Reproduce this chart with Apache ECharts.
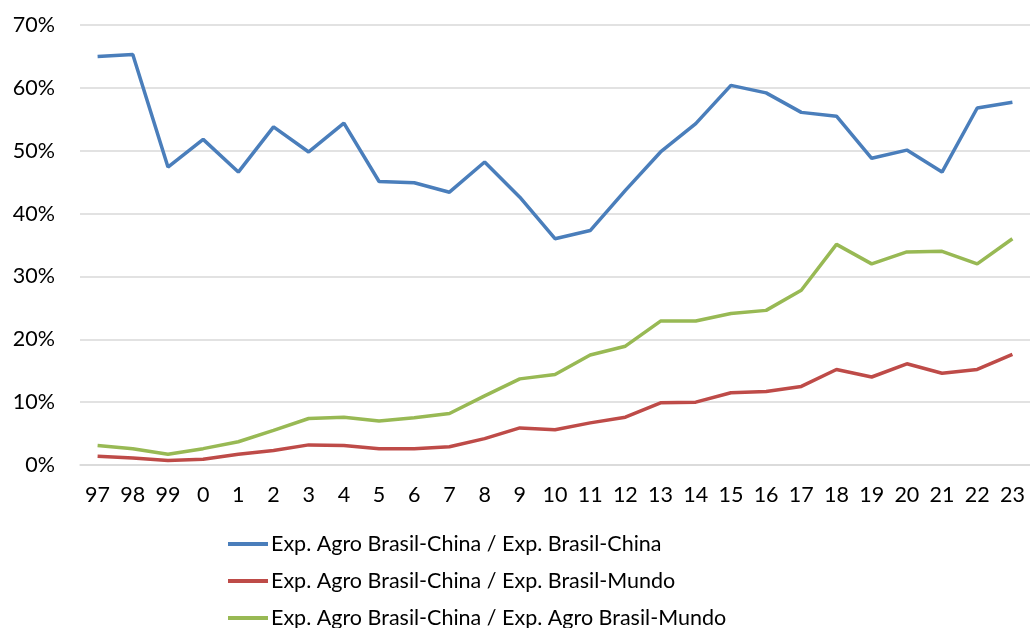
<!DOCTYPE html>
<html>
<head>
<meta charset="utf-8">
<script src="https://cdn.jsdelivr.net/npm/echarts@6/dist/echarts.min.js"></script>
<style>
html,body{margin:0;padding:0;background:#fff;}
#chart{width:1030px;height:628px;}
</style>
</head>
<body>
<div id="chart"></div>
<script>
var categories = ['97','98','99','0','1','2','3','4','5','6','7','8','9','10','11','12','13','14','15','16','17','18','19','20','21','22','23'];
var seriesNames = [
  'Exp. Agro Brasil-China / Exp. Brasil-China',
  'Exp. Agro Brasil-China / Exp. Brasil-Mundo',
  'Exp. Agro Brasil-China / Exp. Agro Brasil-Mundo'
];
var agroChinaOverBrasilChina = [65.0,65.3,47.4,51.8,46.6,53.8,49.8,54.4,45.1,44.9,43.4,48.2,42.6,36.0,37.3,43.7,49.8,54.3,60.4,59.2,56.1,55.5,48.8,50.1,46.6,56.8,57.7];
var agroChinaOverBrasilMundo = [1.4,1.1,0.7,0.9,1.7,2.3,3.2,3.1,2.6,2.6,2.9,4.2,5.9,5.6,6.7,7.6,9.9,10.0,11.5,11.7,12.5,15.2,14.0,16.1,14.6,15.2,17.6];
var agroChinaOverAgroMundo = [3.1,2.6,1.7,2.6,3.7,5.5,7.4,7.6,7.0,7.5,8.2,11.0,13.7,14.4,17.5,18.9,22.9,22.9,24.1,24.6,27.8,35.1,32.0,33.9,34.0,32.0,36.0];
var colors = ['#4A7EBB','#BE4B48','#98B954'];

var chart = echarts.init(document.getElementById('chart'));
var fontFam = 'Lato, "Open Sans", sans-serif';
var fs = 21.5;
function mk(name, data, color){
  return {name:name, type:'line', data:data, symbol:'none', smooth:false,
    lineStyle:{color:color, width:3.5}, itemStyle:{color:color}};
}
function lg(i, top){
  return {orient:'vertical', left:228, top:top, padding:0,
    itemWidth:40, itemHeight:4, icon:'rect', itemGap:0,
    textStyle:{color:'#000', fontSize:fs, fontFamily:fontFam, padding:[0,0,0,-2]},
    data:[seriesNames[i]]};
}
chart.setOption({
  animation:false,
  color:colors,
  grid:{left:80, top:25, width:956, height:440},
  xAxis:{
    type:'category', data:categories, boundaryGap:true,
    axisLine:{show:true, lineStyle:{color:'#d9d9d9', width:1.5}},
    axisTick:{show:false},
    axisLabel:{color:'#000', fontSize:fs, fontFamily:fontFam, margin:19, interval:0}
  },
  yAxis:{
    type:'value', min:0, max:70, interval:10,
    axisLine:{show:false}, axisTick:{show:false},
    splitLine:{lineStyle:{color:'#d9d9d9', width:1.5}},
    axisLabel:{color:'#000', fontSize:fs, fontFamily:fontFam, margin:25, formatter:'{value}%'}
  },
  legend:[lg(0,533), lg(1,570), lg(2,607)],
  series:[
    mk(seriesNames[0], agroChinaOverBrasilChina, colors[0]),
    mk(seriesNames[1], agroChinaOverBrasilMundo, colors[1]),
    mk(seriesNames[2], agroChinaOverAgroMundo, colors[2])
  ]
});
</script>
</body>
</html>
